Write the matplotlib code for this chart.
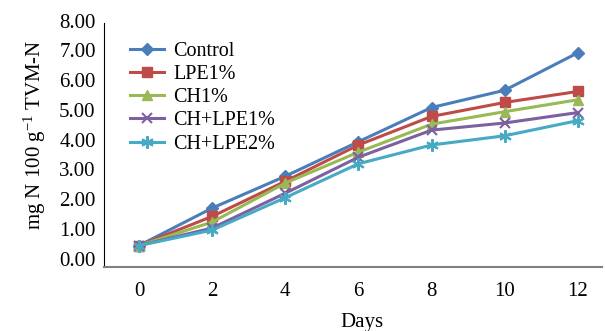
import matplotlib
matplotlib.use("Agg")
import matplotlib.pyplot as plt

days = [0, 2, 4, 6, 8, 10, 12]
series_names = ["Control", "LPE1%", "CH1%", "CH+LPE1%", "CH+LPE2%"]
control = [0.52, 1.78, 2.85, 4.01, 5.16, 5.74, 7.00]
lpe1 = [0.52, 1.50, 2.68, 3.90, 4.86, 5.33, 5.70]
ch1 = [0.52, 1.31, 2.62, 3.66, 4.60, 5.02, 5.42]
ch_lpe1 = [0.52, 1.11, 2.28, 3.49, 4.40, 4.64, 4.99]
ch_lpe2 = [0.52, 1.04, 2.13, 3.27, 3.90, 4.21, 4.72]
y_ticks = [0, 1, 2, 3, 4, 5, 6, 7, 8]

plt.rcParams['font.family'] = ['Liberation Serif', 'DejaVu Serif']
plt.rcParams['mathtext.fontset'] = 'custom'
plt.rcParams['mathtext.rm'] = 'Liberation Serif'
plt.rcParams['mathtext.it'] = 'Liberation Serif:italic'

fig = plt.figure(figsize=(6.05, 3.31), dpi=100)
ax = fig.add_axes([104/605, 1-267/331, (602-104)/605, (267-23)/331])

styles = [
    dict(color="#4A7EBB", marker="D", ms=6),
    dict(color="#BE4B48", marker="s", ms=7),
    dict(color="#98B954", marker="^", ms=7),
    dict(color="#7D60A0", marker="x", ms=7, mew=1.5),
    dict(color="#46AAC5", marker=(6, 2, 0), ms=9, mew=1.5),
]
data = [control, lpe1, ch1, ch_lpe1, ch_lpe2]
for name, vals, st in zip(series_names, data, styles):
    ax.plot(days, vals, lw=2.2, label=name, **st)

ax.set_xlim(-0.957, 12.66)
ax.set_ylim(-0.2, 8)
ax.set_xticks(days)
ax.set_xticklabels([str(d) for d in days])
ax.set_yticks(y_ticks)
ax.set_yticklabels([f"{v:.2f}" for v in y_ticks])
ax.tick_params(axis='both', length=0, labelsize=15)
ax.tick_params(axis='x', pad=11)
ax.tick_params(axis='y', pad=6)
for lab in ax.get_yticklabels():
    lab.set_verticalalignment('center')
ax.spines['top'].set_visible(False)
ax.spines['right'].set_visible(False)
ax.spines['left'].set_color('black')
ax.spines['bottom'].set_color('#7f7f7f')
ax.spines['bottom'].set_linewidth(1.5)

fig.text(362/605, 1-323/331, "Days", ha='center', va='center', fontsize=15)
fig.text(35/605, 1-135/331, r"mg N 100 g$^{\mathregular{-1}}$ TVM-N", rotation=90,
         ha='center', va='center', fontsize=15)

leg = ax.legend(loc='upper left', bbox_to_anchor=(130/605, 1-42/331),
                bbox_transform=fig.transFigure, frameon=False, fontsize=14.5,
                handlelength=1.7, handletextpad=0.45, labelspacing=0.2,
                borderaxespad=0, borderpad=0)

fig.savefig("out.png", dpi=100)
